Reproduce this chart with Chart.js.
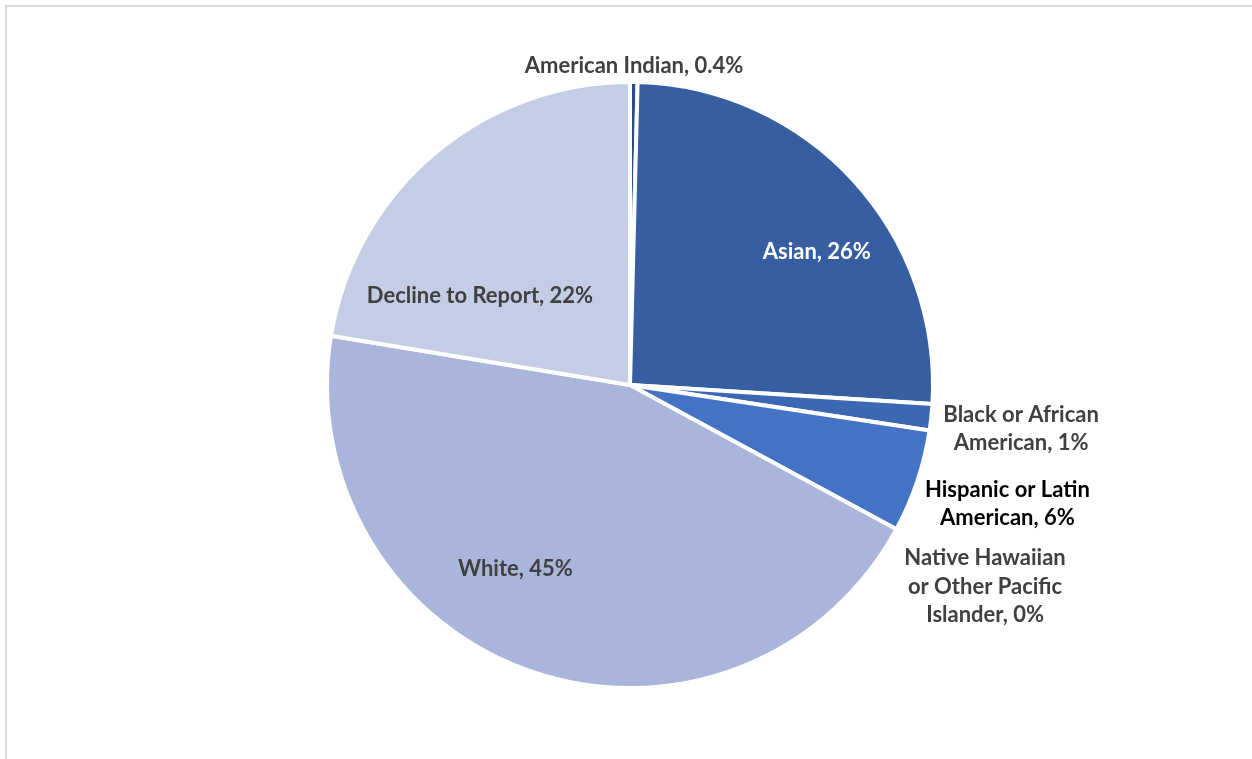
<!DOCTYPE html>
<html>
<head>
<meta charset="utf-8">
<script src="https://cdn.jsdelivr.net/npm/chart.js@4/dist/chart.umd.min.js"></script>
<style>
  html, body { margin: 0; padding: 0; background: #fff; overflow: hidden; }
  #frame {
    position: absolute; left: 5px; top: 5px; width: 1400px; height: 900px;
    border-top: 2px solid #d9d9d9; border-left: 2px solid #d9d9d9;
  }
  #raceChart { position: absolute; left: 0; top: 0; }
</style>
</head>
<body>
<div id="frame"></div>
<canvas id="raceChart" width="1252" height="759"></canvas>
<script>
// Kategori dan persentase (searah jarum jam dari atas)
const categories = [
  'American Indian',
  'Asian',
  'Black or African American',
  'Hispanic or Latin American',
  'Native Hawaiian or Other Pacific Islander',
  'White',
  'Decline to Report'
];
const shares = [0.4, 25.6, 1.4, 5.5, 0, 44.7, 22.4];

// Warna irisan dan warna teks label
const sliceColors = ['#2b4c88', '#365ea1', '#3b67b3', '#4472c4', '#7190ce', '#a9b5da', '#c3cde6'];
const labelColors = ['#404040', '#ffffff', '#404040', '#000000', '#404040', '#404040', '#404040'];

// Penempatan label: di dalam irisan (geser sudut + fraksi radius) atau di luar (geser sudut + jarak tambahan)
const labelPlacement = [
  { outside: true, wrap: 400, shift: 0, extra: -3 },
  { outside: false, shift: 6.7, frac: 0.76 },
  { outside: true, wrap: 178, shift: 0, extra: 5 },
  { outside: true, wrap: 178, shift: -1.3, extra: 0 },
  { outside: true, wrap: 178, shift: 0.9, extra: 8 },
  { outside: false, shift: 13.3, frac: 0.71 },
  { outside: false, shift: -18.3, frac: 0.58 }
];

const LABEL_FONT = 'bold 22px Lato';
const LINE_H = 28.5;
const BASELINE_FIX = 2;

function formatShare(v) {
  if (v === 0) return '0%';
  if (v < 1) return v.toFixed(1) + '%';
  return Math.round(v) + '%';
}

function wrapText(ctx, text, maxWidth) {
  const words = text.split(' ');
  const lines = [];
  let line = '';
  words.forEach(w => {
    const test = line ? line + ' ' + w : w;
    if (line && ctx.measureText(test).width > maxWidth) {
      lines.push(line);
      line = w;
    } else {
      line = test;
    }
  });
  if (line) lines.push(line);
  return lines;
}

// Plugin untuk menggambar label data
const sliceLabels = {
  id: 'sliceLabels',
  afterDatasetsDraw(chart) {
    const ctx = chart.ctx;
    const meta = chart.getDatasetMeta(0);
    ctx.save();
    ctx.font = LABEL_FONT;
    ctx.textAlign = 'center';
    ctx.textBaseline = 'middle';
    meta.data.forEach((arc, i) => {
      const p = arc.getProps(['x', 'y', 'startAngle', 'endAngle', 'outerRadius'], true);
      const place = labelPlacement[i];
      const text = categories[i] + ', ' + formatShare(shares[i]);
      const lines = place.outside ? wrapText(ctx, text, place.wrap) : [text];
      const a = (p.startAngle + p.endAngle) / 2 + place.shift * Math.PI / 180;
      let r;
      if (place.outside) {
        const halfW = Math.max(...lines.map(l => ctx.measureText(l).width)) / 2;
        const halfH = lines.length * LINE_H / 2;
        r = p.outerRadius + 5 + place.extra + halfW * Math.abs(Math.cos(a)) + halfH * Math.abs(Math.sin(a));
      } else {
        r = p.outerRadius * place.frac;
      }
      const cx = p.x + r * Math.cos(a);
      const cy = p.y + r * Math.sin(a) + BASELINE_FIX;
      ctx.fillStyle = labelColors[i];
      const top = cy - (lines.length - 1) * LINE_H / 2;
      lines.forEach((l, k) => ctx.fillText(l, cx, top + k * LINE_H));
    });
    ctx.restore();
  }
};

const ctx = document.getElementById('raceChart').getContext('2d');

new Chart(ctx, {
  type: 'pie',
  data: {
    labels: categories,
    datasets: [{
      data: shares,
      backgroundColor: sliceColors,
      borderColor: '#ffffff',
      borderWidth: 4,
      hoverOffset: 0
    }]
  },
  options: {
    responsive: false,
    animation: false,
    radius: 303,
    layout: { padding: { left: 8, right: 0, top: 11, bottom: 0 } },
    plugins: {
      legend: { display: false },
      tooltip: { enabled: false }
    }
  },
  plugins: [sliceLabels]
});
</script>
</body>
</html>
